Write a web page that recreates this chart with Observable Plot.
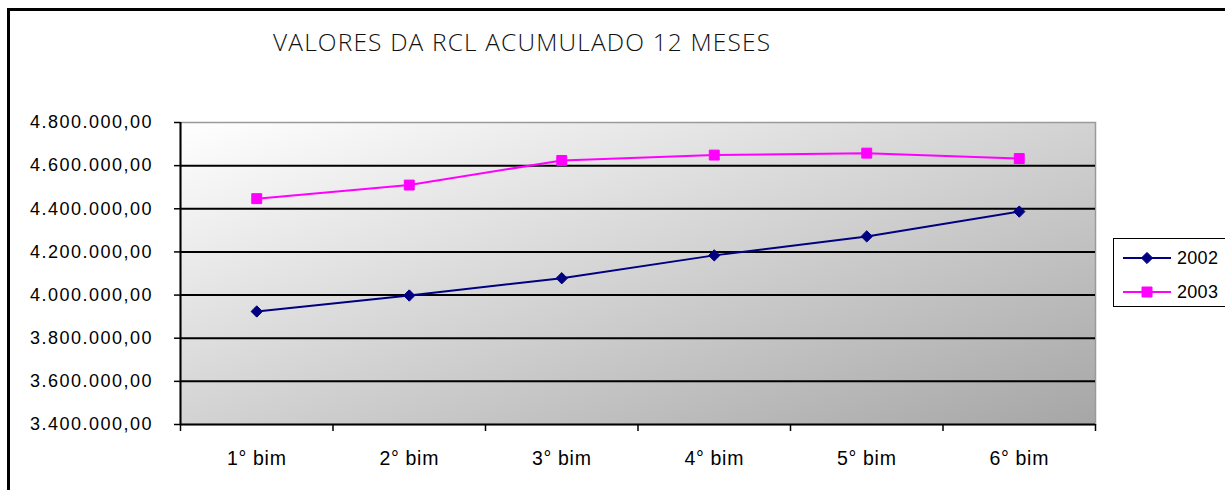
<!DOCTYPE html>
<html>
<head>
<meta charset="utf-8">
<script src="https://cdn.jsdelivr.net/npm/d3@7"></script>
<script src="https://cdn.jsdelivr.net/npm/@observablehq/plot@0.6"></script>
<style>
  html, body { margin: 0; padding: 0; background: #fff; }
  #wrap { position: relative; width: 1225px; height: 490px; overflow: hidden; background: #fff; }
  #frame { position: absolute; left: 7px; top: 8px; width: 1400px; height: 700px; border: 3px solid #000; box-sizing: border-box; }
  #title { position: absolute; left: 273px; top: 28px; font-family: "Open Sans", "Liberation Sans", sans-serif; font-weight: 300; font-size: 24.5px; color: #111; white-space: nowrap; line-height: 28px; }
  #chart { position: absolute; left: 0; top: 0; }
  #chart svg text { font-family: "Liberation Sans", Arial, sans-serif; fill: #000; font-size: 18px; }
  #chart svg g[aria-label="x-axis tick label"] text { font-size: 19.5px; letter-spacing: 0.7px; }
  #chart svg g[aria-label="y-axis tick label"] text { font-size: 18px; letter-spacing: 1.5px; }
  #legend { position: absolute; left: 1113px; top: 238px; width: 130px; height: 69px; border: 1px solid #000; background: #fff; box-sizing: border-box; font-family: "Liberation Sans", Arial, sans-serif; font-size: 18px; color: #000; }
  .item { position: absolute; left: 9px; height: 20px; display: flex; align-items: center; }
  .item svg { display: block; }
  .item span { margin-left: 6px; letter-spacing: 0.3px; }
</style>
</head>
<body>
<div id="wrap">
  <div id="frame"></div>
  <div id="chart"></div>
  <div id="title">VALORES DA RCL ACUMULADO 12 MESES</div>
  <div id="legend"></div>
</div>
<script>
// ---- data ----
const categories = ["1° bim", "2° bim", "3° bim", "4° bim", "5° bim", "6° bim"];
const seriesNames = ["2002", "2003"];
const values2002 = [3924000, 3998000, 4078000, 4184000, 4272000, 4387000];
const values2003 = [4447000, 4510000, 4624000, 4649000, 4658000, 4633000];
const yTicks = [3400000, 3600000, 3800000, 4000000, 4200000, 4400000, 4600000, 4800000];
const seriesColors = ["#000080", "#ff00ff"];
const seriesSymbols = ["diamond2", "square"];

// ---- derived tables ----
const positions = categories.map((c, i) => i + 1);
const boundaries = [0.5, ...positions.map(p => p + 0.5)];
const rows = [];
[values2002, values2003].forEach((vals, s) => {
  vals.forEach((v, i) => rows.push({series: seriesNames[s], pos: positions[i], value: v}));
});

const ptBR = d3.formatLocale({decimal: ",", thousands: ".", grouping: [3], currency: ["R$ ", ""]});
const fmt = ptBR.format(",.2f");

const yMin = yTicks[0], yMax = yTicks[yTicks.length - 1];

const chart = Plot.plot({
  width: 1225,
  height: 490,
  marginLeft: 180,
  marginRight: 130,
  marginTop: 122,
  marginBottom: 66,
  style: {fontFamily: "'Liberation Sans', Arial, sans-serif", fontSize: "18px", color: "#000", background: "transparent"},
  x: {type: "linear", domain: [boundaries[0], boundaries[boundaries.length - 1]], label: null},
  y: {domain: [yMin, yMax], label: null},
  marks: [
    Plot.frame({fill: "url(#bgGrad)", stroke: "#9a9a9a", strokeWidth: 1.5}),
    Plot.ruleY(yTicks.slice(0, -1), {stroke: "#000", strokeWidth: 2}),
    Plot.ruleX([boundaries[0]], {stroke: "#000", strokeWidth: 2}),
    Plot.axisY({ticks: yTicks, tickFormat: fmt, tickSize: 6, tickPadding: 21.5, stroke: "#000", strokeWidth: 1.5, label: null, fontSize: 18}),
    Plot.axisX({ticks: boundaries, tickFormat: () => "", tickSize: 7, stroke: "#000", strokeWidth: 1.5, label: null}),
    Plot.axisX({ticks: positions, tickFormat: p => categories[p - 1], tickSize: 0, tickPadding: 27, label: null, fontSize: 19.5}),
    ...seriesNames.map((name, s) => Plot.line(rows.filter(r => r.series === name), {x: "pos", y: "value", stroke: seriesColors[s], strokeWidth: 2})),
    ...seriesNames.map((name, s) => Plot.dot(rows.filter(r => r.series === name), {x: "pos", y: "value", fill: seriesColors[s], stroke: seriesColors[s], strokeWidth: 1, symbol: seriesSymbols[s], r: s === 0 ? 5.1 : 5.6}))
  ]
});

// gradient definition for plot-area background
const ns = "http://www.w3.org/2000/svg";
const defs = document.createElementNS(ns, "defs");
const grad = document.createElementNS(ns, "linearGradient");
grad.setAttribute("id", "bgGrad");
grad.setAttribute("x1", "0"); grad.setAttribute("y1", "0");
grad.setAttribute("x2", "1"); grad.setAttribute("y2", "1");
[["0%", "#ffffff"], ["100%", "#a6a6a6"]].forEach(([o, c]) => {
  const st = document.createElementNS(ns, "stop");
  st.setAttribute("offset", o); st.setAttribute("stop-color", c);
  grad.appendChild(st);
});
defs.appendChild(grad);
chart.insertBefore(defs, chart.firstChild);
document.getElementById("chart").appendChild(chart);

// legend
const legend = document.getElementById("legend");
seriesNames.forEach((name, s) => {
  const item = document.createElement("div");
  item.className = "item";
  item.style.top = (9 + s * 34) + "px";
  const sw = d3.create("svg").attr("width", 48).attr("height", 20);
  sw.append("line").attr("x1", 0).attr("x2", 48).attr("y1", 10).attr("y2", 10).attr("stroke", seriesColors[s]).attr("stroke-width", 2);
  const sym = seriesSymbols[s] === "square" ? d3.symbolSquare : d3.symbolDiamond2;
  sw.append("path").attr("d", d3.symbol(sym, s === 0 ? 80 : 100)()).attr("transform", "translate(24,10)").attr("fill", seriesColors[s]).attr("stroke", seriesColors[s]);
  item.appendChild(sw.node());
  const t = document.createElement("span");
  t.textContent = name;
  item.appendChild(t);
  legend.appendChild(item);
});

// stretch title to the reference width
const title = document.getElementById("title");
const natural = title.getBoundingClientRect().width;
const target = 497;
const n = title.textContent.length;
title.style.letterSpacing = ((target - natural) / (n - 1)) + "px";
</script>
</body>
</html>
